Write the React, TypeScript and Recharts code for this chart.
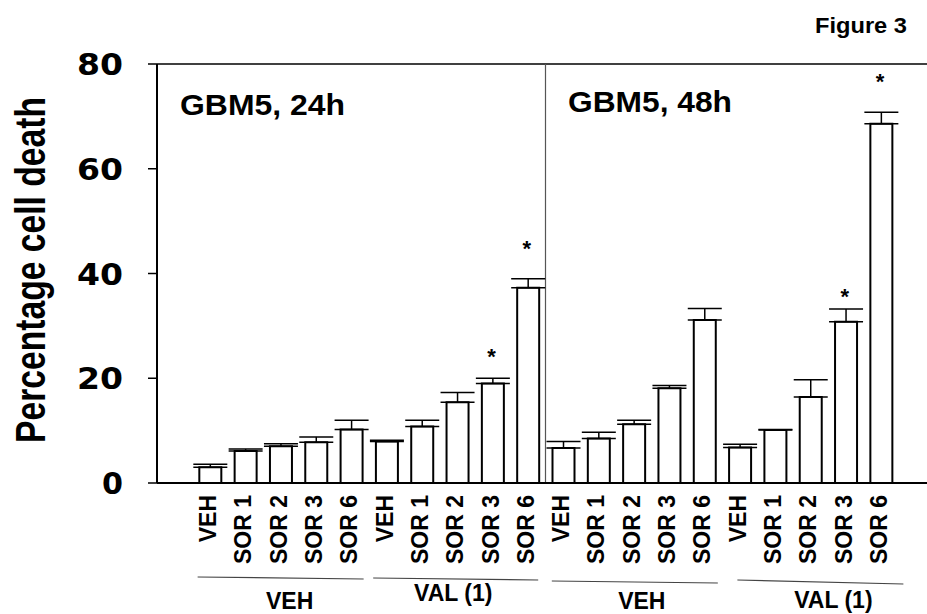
import React from "react";
import {
  ComposedChart,
  Bar,
  ErrorBar,
  Scatter,
  XAxis,
  YAxis,
  ReferenceLine,
} from "recharts";

const conditions = ["VEH", "SOR 1", "SOR 2", "SOR 3", "SOR 6"];
const groupNames = ["VEH", "VAL (1)", "VEH", "VAL (1)"];
const panelTitles = ["GBM5, 24h", "GBM5, 48h"];
const yTicks = [0, 20, 40, 60, 80];

// mean % cell death and upper error (SEM)
const veh24 = [3.0, 6.1, 7.0, 7.8, 10.2];
const veh24Err = [0.6, 0.4, 0.5, 1.0, 1.8];
const val24 = [7.9, 10.8, 15.4, 19.0, 37.3];
const val24Err = [0.25, 1.2, 1.9, 1.0, 1.7];
const veh48 = [6.7, 8.5, 11.2, 18.1, 31.1];
const veh48Err = [1.2, 1.2, 0.8, 0.5, 2.2];
const val48 = [6.8, 10.1, 16.4, 30.8, 68.6];
const val48Err = [0.6, 0.1, 3.3, 2.4, 2.2];

// height where the significance asterisk sits
const val24Stars = [null, null, null, 25.2, 45.8];
const val48Stars = [null, null, null, 36.5, 77.7];

type Row = {
  key: string;
  label: string;
  value: number | null;
  err: [number, number];
  star: number | null;
};

const blank = (key: string): Row => ({ key, label: "", value: null, err: [0, 0], star: null });

const block = (
  prefix: string,
  vals: number[],
  errs: number[],
  stars?: (number | null)[]
): Row[] =>
  conditions.map((c, i) => ({
    key: `${prefix}-${c}`,
    label: c,
    value: vals[i],
    err: [0, errs[i]],
    star: stars ? stars[i] : null,
  }));

const rows: Row[] = [
  blank("start"),
  ...block("24-veh", veh24, veh24Err),
  ...block("24-val", val24, val24Err, val24Stars),
  ...block("48-veh", veh48, veh48Err),
  ...block("48-val", val48, val48Err, val48Stars),
  blank("end"),
];

const CHART_W = 934;
const CHART_H = 614;
const FONT = "'Liberation Sans', Arial, sans-serif";

// underline + label placement for each treatment group (relative to middle bar)
const groupDecor = [
  { left: -83, right: 83, y1: 94, y2: 96, dx: 9, dy: 126 },
  { left: -84, right: 81, y1: 95, y2: 97, dx: -4, dy: 118 },
  { left: -82, right: 84, y1: 98, y2: 100, dx: 8, dy: 126 },
  { left: -73, right: 93, y1: 97, y2: 101, dx: 23, dy: 125 },
];

const XTick = (props: any) => {
  const { x, y, index } = props;
  const row = rows[index];
  if (!row || !row.label) return <g />;
  const tx = x + 6;
  const ty = y + 12;
  const pos = index - 1;
  const g = Math.floor(pos / 5);
  const isMiddle = pos % 5 === 2;
  const d = groupDecor[g];
  return (
    <g>
      <text
        x={tx}
        y={ty}
        transform={`rotate(-90, ${tx}, ${ty})`}
        textAnchor="end"
        fontFamily={FONT}
        fontWeight="bold"
        fontSize={23}
        fill="#000"
      >
        {row.label}
      </text>
      {isMiddle && (
        <g>
          <line
            x1={x + d.left}
            y1={y + d.y1}
            x2={x + d.right}
            y2={y + d.y2}
            stroke="#444"
            strokeWidth={1.2}
          />
          <text
            x={x + d.dx}
            y={y + d.dy}
            textAnchor="middle"
            fontFamily={FONT}
            fontWeight="bold"
            fontSize={23}
            fill="#000"
          >
            {groupNames[g]}
          </text>
        </g>
      )}
    </g>
  );
};

const YTick = (props: any) => {
  const { x, y, payload } = props;
  const v = payload.value as number;
  return (
    <text
      x={x}
      y={y + 11}
      textAnchor="end"
      fontFamily="'DejaVu Sans', sans-serif"
      fontWeight="bold"
      fontSize={30}
      fill="#000"
      textLength={v >= 10 ? 46 : 21}
      lengthAdjust="spacingAndGlyphs"
    >
      {v}
    </text>
  );
};

const Star = (props: any) => {
  const { cx, cy, payload } = props;
  if (!payload || payload.star == null || cy == null || isNaN(cy)) return <g />;
  return (
    <text
      x={cx - 1}
      y={cy + 12.5}
      textAnchor="middle"
      fontFamily={FONT}
      fontWeight="bold"
      fontSize={22}
      fill="#000"
    >
      *
    </text>
  );
};

const App = () => {
  return (
    <div
      style={{
        position: "absolute",
        left: 0,
        top: 0,
        width: 927,
        height: 614,
        overflow: "hidden",
        background: "#fff",
        fontFamily: FONT,
      }}
    >
      <ComposedChart
        width={CHART_W}
        height={CHART_H}
        data={rows}
        margin={{ top: 64, right: 0, bottom: 0, left: 0 }}
      >
        <XAxis
          dataKey="key"
          interval={0}
          tickLine={false}
          tickSize={0}
          tickMargin={0}
          axisLine={{ stroke: "#000", strokeWidth: 2 }}
          height={131}
          tick={<XTick />}
        />
        <YAxis
          domain={[0, 80]}
          ticks={yTicks}
          interval={0}
          width={157}
          tickSize={9}
          tickMargin={25}
          axisLine={{ stroke: "#000", strokeWidth: 2 }}
          tickLine={{ stroke: "#000", strokeWidth: 1.5 }}
          tick={<YTick />}
          label={{
            content: () => (
              <text
                x={45}
                y={270}
                transform="rotate(-90, 45, 270)"
                textAnchor="middle"
                fontFamily={FONT}
                fontWeight="bold"
                fontSize={43}
                fill="#000"
                textLength={346}
                lengthAdjust="spacingAndGlyphs"
              >
                Percentage cell death
              </text>
            ),
          }}
        />
        <ReferenceLine y={80} stroke="#000" strokeWidth={1.5} />
        <ReferenceLine
          x="48-veh-VEH"
          position="start"
          stroke="#555"
          strokeWidth={1.2}
        />
        <Bar
          dataKey="value"
          fill="#fff"
          stroke="#000"
          strokeWidth={2}
          barSize={22}
          isAnimationActive={false}
        >
          <ErrorBar
            dataKey="err"
            direction="y"
            width={17}
            stroke="#000"
            strokeWidth={1.5}
          />
        </Bar>
        <Scatter
          dataKey="star"
          shape={<Star />}
          isAnimationActive={false}
        />
      </ComposedChart>
      <svg
        width={927}
        height={614}
        style={{ position: "absolute", left: 0, top: 0, pointerEvents: "none" }}
      >
        <text
          x={180}
          y={115}
          fontFamily={FONT}
          fontWeight="bold"
          fontSize={30}
          textLength={165}
          lengthAdjust="spacingAndGlyphs"
        >
          {panelTitles[0]}
        </text>
        <text
          x={568}
          y={112}
          fontFamily={FONT}
          fontWeight="bold"
          fontSize={30}
          textLength={164}
          lengthAdjust="spacingAndGlyphs"
        >
          {panelTitles[1]}
        </text>
        <text
          x={815}
          y={33}
          fontFamily={FONT}
          fontWeight="bold"
          fontSize={22}
          textLength={92}
          lengthAdjust="spacingAndGlyphs"
        >
          Figure 3
        </text>
      </svg>
    </div>
  );
};

export default App;
